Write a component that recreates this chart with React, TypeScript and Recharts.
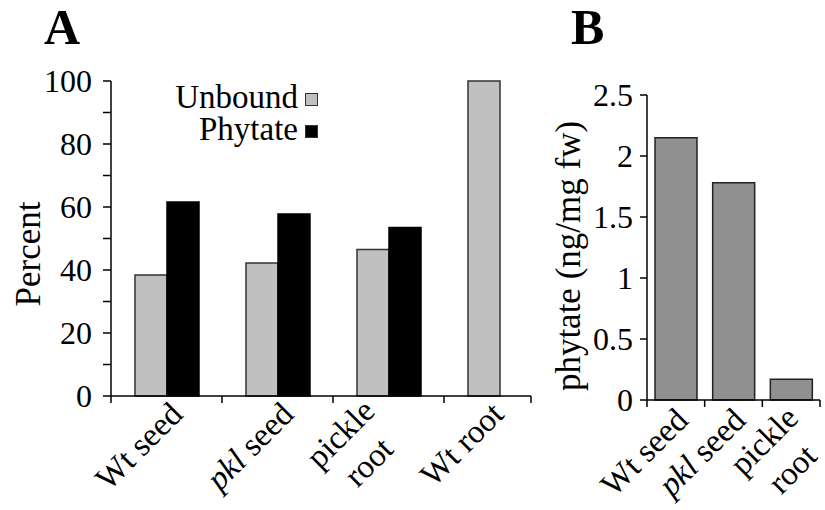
import React from "react";
import {
  BarChart,
  Bar,
  XAxis,
  YAxis,
  Legend,
  ReferenceLine,
} from "recharts";

// panel A: percent of unbound vs phytate-bound
const categoriesA = ["Wt seed", "pkl seed", "pickle\nroot", "Wt root"];
const unboundA = [38.4, 42.2, 46.5, 100];
const phytateA: (number | null)[] = [61.6, 57.8, 53.5, null];
const ticksA = [0, 10, 20, 30, 40, 50, 60, 70, 80, 90, 100];
const seriesOrder = ["Unbound", "Phytate"];

// panel B: phytate content
const categoriesB = ["Wt seed", "pkl seed", "pickle\nroot"];
const phytateB = [2.15, 1.78, 0.17];
const ticksB = [0, 0.5, 1, 1.5, 2, 2.5];

const FONT = "'Liberation Serif', 'DejaVu Serif', 'Noto Serif', 'Times New Roman', serif";
const LABEL_SIZE = 33;
const LINE_GAP = 40;

const dataA = categoriesA.map((name, i) => ({
  name,
  unbound: unboundA[i],
  phytate: phytateA[i],
}));
const dataB = categoriesB.map((name, i) => ({ name, phytate: phytateB[i] }));

let ctx: CanvasRenderingContext2D | null = null;
function measure(s: string) {
  if (!ctx) ctx = document.createElement("canvas").getContext("2d");
  if (!ctx) return s.length * LABEL_SIZE * 0.45;
  ctx.font = `${LABEL_SIZE}px ${FONT}`;
  return ctx.measureText(s).width;
}

function words(line: string) {
  const [first, ...rest] = line.split(" ");
  if (first === "pkl") {
    return (
      <>
        <tspan fontStyle="italic">pkl </tspan>
        <tspan>{rest.join(" ")}</tspan>
      </>
    );
  }
  return line;
}

function CategoryTick(props: any) {
  const { x, y, payload, index, band, trimEnd, count, single, multi } = props;
  const lines = String(payload.value).split("\n");
  const last = index === count - 1;
  const mid = last ? x - trimEnd / 2 : x;
  const off = lines.length > 1 ? multi : single;
  const w = Math.max(...lines.map(measure));
  return (
    <g>
      <line x1={x - band / 2} y1={y} x2={x - band / 2} y2={y + 7} stroke="#000" strokeWidth={1.5} />
      {last && (
        <line
          x1={x + band / 2 - trimEnd}
          y1={y}
          x2={x + band / 2 - trimEnd}
          y2={y + 7}
          stroke="#000"
          strokeWidth={1.5}
        />
      )}
      <g
        transform={`translate(${mid + off[0]},${y + off[1]}) rotate(-45)`}
        fontFamily={FONT}
        fontSize={LABEL_SIZE}
        fill="#000"
      >
        {lines.length === 1 ? (
          <text x={0} y={0} textAnchor="end">
            {words(lines[0])}
          </text>
        ) : (
          lines.map((l, i) => (
            <text key={i} x={-w / 2} y={i * LINE_GAP} textAnchor="middle">
              {words(l)}
            </text>
          ))
        )}
      </g>
    </g>
  );
}

function yTitle(text: string, x: number, y: number) {
  return {
    content: () => (
      <text
        x={x}
        y={y}
        transform={`rotate(-90 ${x} ${y})`}
        textAnchor="middle"
        fontFamily={FONT}
        fontSize={35}
        fill="#000"
      >
        {text}
      </text>
    ),
  };
}

function LegendBox({ payload }: any) {
  const items = [...(payload || [])].sort(
    (a: any, b: any) => seriesOrder.indexOf(a.value) - seriesOrder.indexOf(b.value)
  );
  return (
    <div style={{ fontFamily: FONT, fontSize: 33, lineHeight: "32px", color: "#000" }}>
      {items.map((p: any) => (
        <div
          key={p.value}
          style={{ display: "flex", justifyContent: "flex-end", alignItems: "center" }}
        >
          <span>{p.value}</span>
          <span
            style={{
              display: "inline-block",
              boxSizing: "border-box",
              width: 13,
              height: 13,
              marginLeft: 7,
              background: p.color,
              border: "1.5px solid #333",
              position: "relative",
              top: 2,
            }}
          />
        </div>
      ))}
    </div>
  );
}

const axisStyle = { stroke: "#000", strokeWidth: 1.5 };
const tickFont = { fontFamily: FONT, fontSize: 32, fill: "#000" };
const panelTitle: React.CSSProperties = {
  position: "absolute",
  top: 2,
  fontFamily: FONT,
  fontWeight: "bold",
  fontSize: 50,
  lineHeight: "50px",
  color: "#000",
};

export default function App() {
  return (
    <div
      style={{
        position: "absolute",
        left: 0,
        top: 0,
        width: 825,
        height: 510,
        background: "#fff",
        overflow: "hidden",
      }}
    >
      <div style={{ ...panelTitle, left: 44 }}>A</div>
      <div style={{ ...panelTitle, left: 571 }}>B</div>

      <div style={{ position: "absolute", left: 0, top: 0 }}>
        <BarChart
          width={560}
          height={510}
          data={dataA}
          margin={{ top: 81, right: 5, bottom: 14, left: 11 }}
          barGap={0}
        >
          <XAxis
            dataKey="name"
            height={100}
            interval={0}
            axisLine={false}
            tickLine={false}
            tickSize={0}
            tickMargin={0}
            tick={(p: any) => (
              <CategoryTick
                {...p}
                band={111}
                trimEnd={24}
                count={categoriesA.length}
                single={[18, 20]}
                multi={[-12, 17]}
              />
            )}
          />
          <YAxis
            width={100}
            domain={[0, 100]}
            ticks={ticksA}
            interval={0}
            tickSize={8}
            tickMargin={11}
            axisLine={axisStyle}
            tickLine={axisStyle}
            tick={tickFont}
            tickFormatter={(v: number) => (v % 20 === 0 ? String(v) : "")}
            label={yTitle("Percent", 40, 254)}
          />
          <Legend
            layout="horizontal"
            verticalAlign="middle"
            align="center"
            content={<LegendBox />}
            wrapperStyle={{ left: 148, top: 81, width: 170 }}
          />
          <Bar
            dataKey="unbound"
            name="Unbound"
            fill="#c0c0c0"
            stroke="#333"
            strokeWidth={1.5}
            barSize={32}
            isAnimationActive={false}
          />
          <Bar
            dataKey="phytate"
            name="Phytate"
            fill="#000"
            stroke="#000"
            strokeWidth={1.5}
            barSize={32}
            isAnimationActive={false}
          />
          <ReferenceLine
            y={0}
            shape={(p: any) => (
              <line
                x1={p.x1}
                y1={p.y1}
                x2={p.x2 - 24}
                y2={p.y2}
                stroke="#000"
                strokeWidth={1.5}
              />
            )}
          />
        </BarChart>
      </div>

      <div style={{ position: "absolute", left: 520, top: 0 }}>
        <BarChart
          width={305}
          height={510}
          data={dataB}
          margin={{ top: 95, right: 5, bottom: 10, left: 47 }}
        >
          <XAxis
            dataKey="name"
            height={100}
            interval={0}
            axisLine={axisStyle}
            tickLine={false}
            tickSize={0}
            tickMargin={0}
            tick={(p: any) => (
              <CategoryTick
                {...p}
                band={173 / 3}
                trimEnd={0}
                count={categoriesB.length}
                single={[14, 22]}
                multi={[9, 20]}
              />
            )}
          />
          <YAxis
            width={80}
            domain={[0, 2.5]}
            ticks={ticksB}
            interval={0}
            tickSize={7}
            tickMargin={7}
            axisLine={axisStyle}
            tickLine={axisStyle}
            tick={tickFont}
            label={yTitle("phytate (ng/mg fw)", 60, 256)}
          />
          <Bar
            dataKey="phytate"
            fill="#909090"
            stroke="#222"
            strokeWidth={1.5}
            barSize={42}
            isAnimationActive={false}
          />
        </BarChart>
      </div>
    </div>
  );
}
